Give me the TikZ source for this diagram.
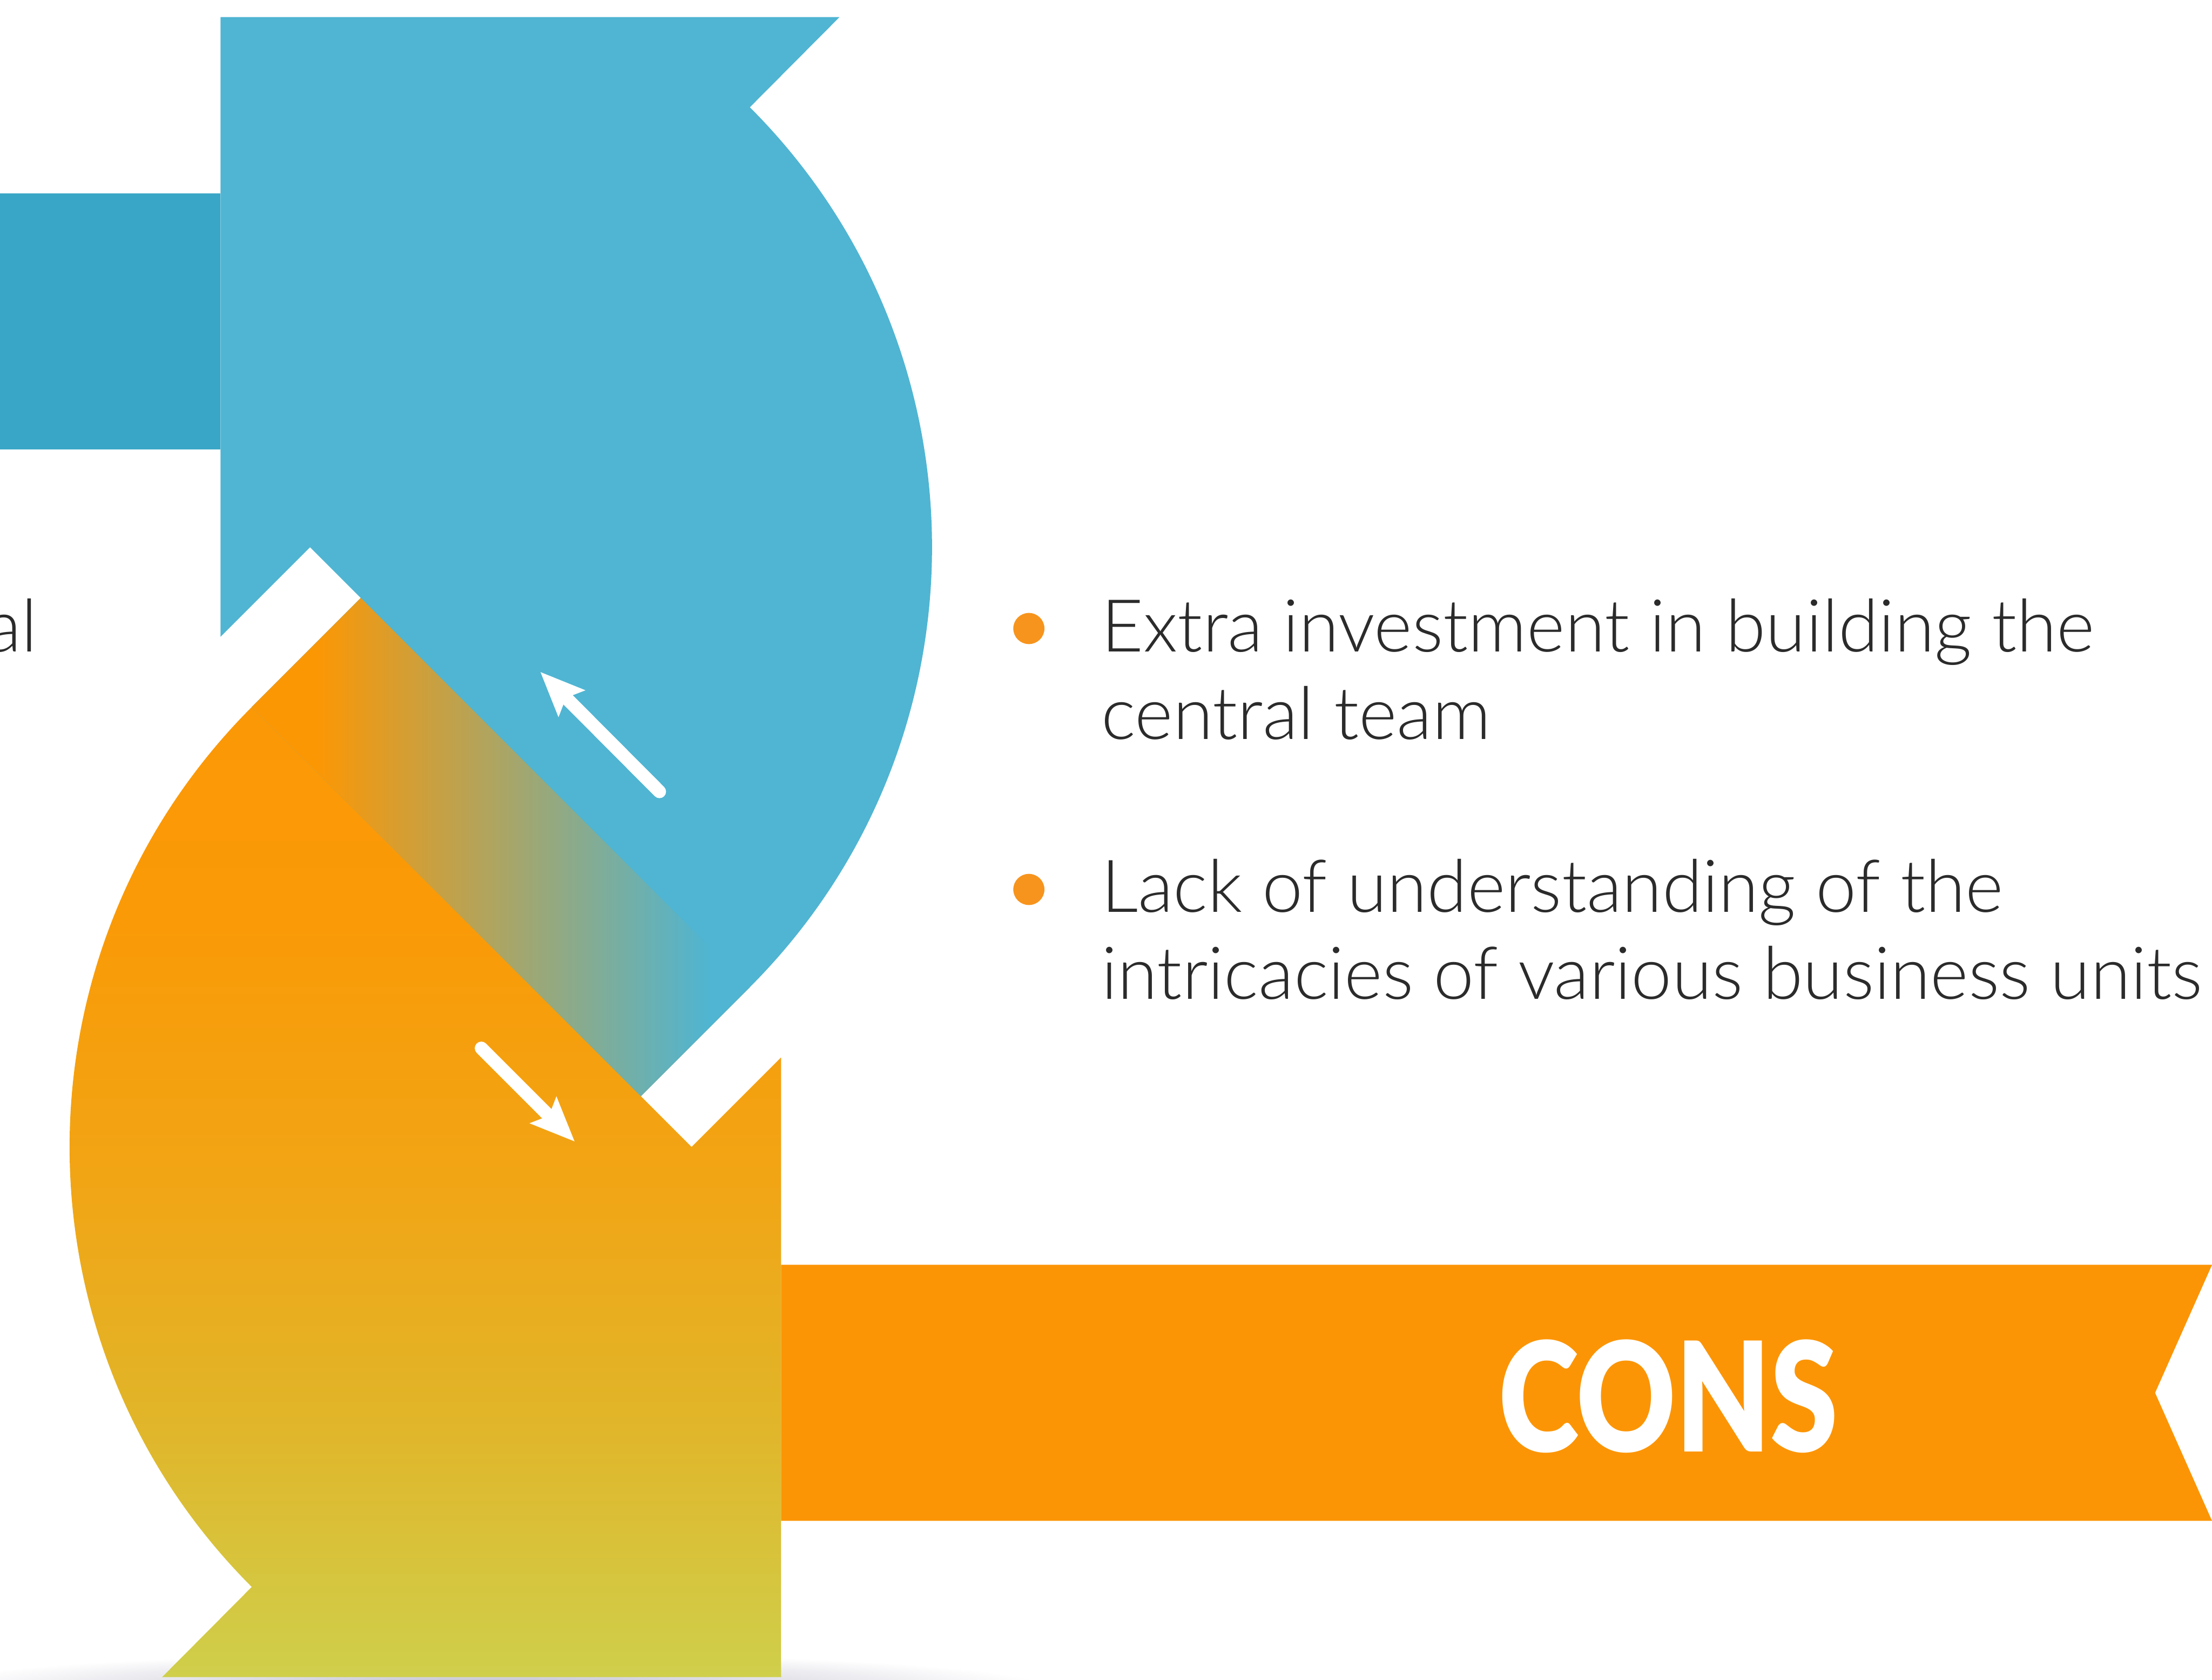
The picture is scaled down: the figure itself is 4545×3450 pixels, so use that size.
\documentclass[tikz,border=0pt]{standalone}
\usepackage{fontspec}
\usetikzlibrary{arrows.meta}
\newfontfamily\lightface{Lato Light}
\newfontfamily\heavyface{Lato Black}

\definecolor{cyanmain}{HTML}{4FB5D2}
\definecolor{cyandark}{HTML}{3AA6C7}
\definecolor{ambertop}{HTML}{FC9704}
\definecolor{amberB}{HTML}{FA9A07}
\definecolor{amberC}{HTML}{F1A515}
\definecolor{goldD}{HTML}{E2B428}
\definecolor{limeE}{HTML}{CFCF4B}
\definecolor{bannerorange}{HTML}{FC9505}
\definecolor{inkgray}{HTML}{2B2B2B}
\definecolor{dotorange}{HTML}{F7941D}
\definecolor{shadowgray}{HTML}{BDBDCC}

% vertical fade of the lower (amber) arrow, bottom to top
\pgfdeclareverticalshading{amberfade}{100bp}{
  color(0bp)=(limeE); color(25bp)=(limeE); color(37.4bp)=(goldD);
  color(48bp)=(amberC); color(60bp)=(amberB); color(75bp)=(ambertop);
  color(100bp)=(ambertop)}
% horizontal blend where the two arrows overlap
\pgfdeclarehorizontalshading{overlapfade}{100bp}{
  color(0bp)=(ambertop); color(31.5bp)=(ambertop);
  color(71bp)=(cyanmain); color(100bp)=(cyanmain)}

\tikzset{
  bodytext/.style={inner sep=0pt, text=inkgray, font=\lightface\fontsize{42.6}{51}\selectfont},
  headtext/.style={inner sep=0pt, text=white, font=\heavyface\fontsize{89}{100}\selectfont},
  whitearrow/.style={draw=white, line width=0.27cm, line cap=round,
    -{Stealth[length=0.9cm, width=0.74cm, inset=0.15cm]}},
  bulletdot/.style={fill=dotorange}
}

\begin{document}
\begin{tikzpicture}[x=0.01cm, y=-0.01cm]
  \useasboundingbox (0,0) rectangle (4545,3450);
  \fill[white] (0,0) rectangle (4545,3450);

  % soft floor shadow below the amber arrow
  \shade[inner color=shadowgray, outer color=white] (1000,3465) ellipse[x radius=1150, y radius=70];

  % blue ribbon entering from the left
  \fill[cyandark] (0,397) rectangle (453,923);

  % amber arrow (lower half of the cycle): quarter circle about (1421,2356)
  \shade[shading=amberfade]
    (1605,3445) -- (333,3445) -- (517.3,3259.7)
    arc[start angle=135, end angle=225, radius=1278]
    -- (741.3,1228.3) -- (1540.7,2027.7) -- (1316.7,2251.7)
    -- (1421,2356) -- (1605,2172) -- cycle;

  % blue arrow (upper half of the cycle): quarter circle about (637,1124)
  \fill[cyanmain]
    (453,35) -- (1725,35) -- (1540.7,220.3)
    arc[start angle=-45, end angle=45, radius=1278]
    -- (1316.7,2251.7) -- (517.3,1452.3) -- (741.3,1228.3)
    -- (637,1124) -- (453,1308) -- cycle;

  % overlap band blending amber into blue
  \shade[shading=overlapfade]
    (741.3,1228.3) -- (1540.7,2027.7) -- (1316.7,2251.7) -- (517.3,1452.3) -- cycle;

  % direction arrows
  \coordinate (upTail) at (1355,1626);
  \coordinate (upTip)  at (1110,1380);
  \coordinate (dnTail) at (989,2153);
  \coordinate (dnTip)  at (1181,2345);
  \draw[whitearrow] (upTail) -- (upTip);
  \draw[whitearrow] (dnTail) -- (dnTip);

  % amber banner with notched end
  \fill[bannerorange] (1605,2598) -- (4545,2598) -- (4428,2861) -- (4545,3124) -- (1605,3124) -- cycle;
  \node[headtext, anchor=base] (cons) at (3428,2982) {\scalebox{0.8}[1]{CONS}};

  % bullet list
  \fill[bulletdot] (2114,1291) circle[radius=32];
  \fill[bulletdot] (2114,1827) circle[radius=32];
  \node[bodytext, anchor=base west] (b1a) at (2262,1339) {Extra investment in building the};
  \node[bodytext, anchor=base west] (b1b) at (2262,1518) {central team};
  \node[bodytext, anchor=base west] (b2a) at (2262,1874) {Lack of understanding of the};
  \node[bodytext, anchor=base west] (b2b) at (2262,2052) {intricacies of various business units};

  % tail of a text block on the left
  \node[bodytext, anchor=base east] (lefttail) at (78,1339) {al};
\end{tikzpicture}
\end{document}
